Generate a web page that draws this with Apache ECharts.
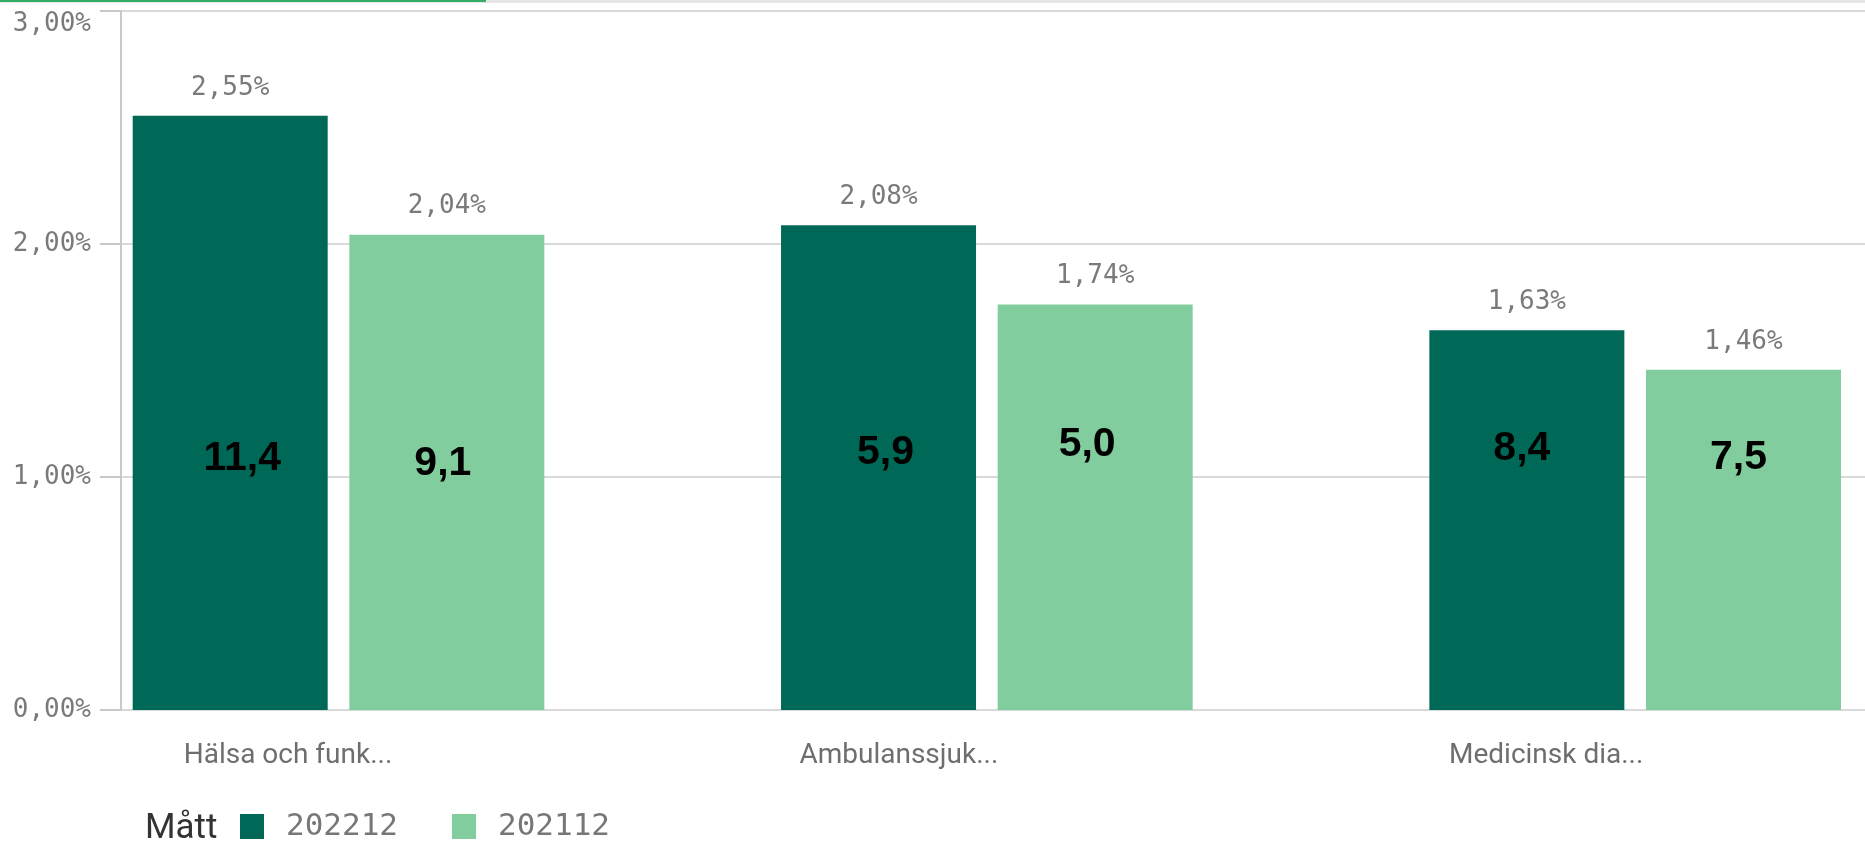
<!DOCTYPE html>
<html>
<head>
<meta charset="utf-8">
<script src="https://cdn.jsdelivr.net/npm/echarts@6/dist/echarts.min.js"></script>
<style>
  html, body { margin: 0; padding: 0; background: #fff; }
  #chart { width: 1865px; height: 842px; }
</style>
</head>
<body>
<div id="chart"></div>
<script>
// data
const categories = ['Hälsa och funk...', 'Ambulanssjuk...', 'Medicinsk dia...'];
const seriesNames = ['202212', '202112'];
const share202212 = [2.55, 2.08, 1.63];
const share202112 = [2.04, 1.74, 1.46];
const inner202212 = [11.4, 5.9, 8.4];
const inner202112 = [9.1, 5.0, 7.5];
const yTicks = [0, 1, 2, 3];

// small nudges for the pasted-in numbers (style only)
const innerOffset202212 = [[12, 4], [7, -2], [-5, -6]];
const innerOffset202112 = [[-4, 9], [-8, -10], [-5, 3]];
// spacer widths so category labels sit left of the group centre, as in Qlik
const labelShift = [101, 176, 178];

const DARK = '#006857';
const LIGHT = '#82cd9e';
const MONO = '"DejaVu Sans Mono", "Liberation Mono", monospace';
const SANS = 'Roboto, "Noto Sans", sans-serif';

const pct = v => v.toFixed(2).replace('.', ',') + '%';
const dec = v => v.toFixed(1).replace('.', ',');

const chart = echarts.init(document.getElementById('chart'));

const barCommon = {
  type: 'bar',
  xAxisIndex: 0,
  yAxisIndex: 0,
  barWidth: 195,
  barGap: '11.1%'
};

function topSeries(name, values, color) {
  return Object.assign({}, barCommon, {
    name: name,
    data: values,
    itemStyle: { color: color },
    label: {
      show: true,
      position: 'top',
      distance: 15,
      formatter: p => pct(p.value),
      fontFamily: MONO,
      fontSize: 26,
      color: '#7a7a7a'
    }
  });
}

function innerSeries(name, values, inner, offsets) {
  return Object.assign({}, barCommon, {
    name: name,
    xAxisIndex: 1,
    data: values.map((v, i) => ({ value: v, label: { offset: offsets[i] } })),
    itemStyle: { color: 'rgba(0,0,0,0)' },
    silent: true,
    label: {
      show: true,
      position: 'insideBottom',
      distance: 235,
      formatter: p => dec(inner[p.dataIndex]),
      fontFamily: '"Liberation Sans", Arial, sans-serif',
      fontWeight: 'bold',
      fontSize: 41,
      color: '#000'
    }
  });
}

const rich = {
  t: { fontFamily: SANS, fontSize: 28, color: '#6e6e6e' }
};
labelShift.forEach((w, i) => { rich['s' + i] = { width: w }; });

const option = {
  animation: false,
  backgroundColor: '#fff',
  title: {
    text: 'Mått',
    left: 145,
    top: 812,
    padding: 0,
    textStyle: { fontFamily: SANS, fontSize: 35, fontWeight: 'normal', color: '#333' }
  },
  legend: {
    data: seriesNames,
    left: 240,
    top: 811,
    padding: 0,
    icon: 'rect',
    itemWidth: 24,
    itemHeight: 25,
    itemGap: 54,
    textStyle: { fontFamily: MONO, fontSize: 31, color: '#777', padding: [0, 0, 0, 17] }
  },
  graphic: [
    { type: 'rect', shape: { x: 0, y: 0, width: 1865, height: 3 }, style: { fill: '#e6e6e6' }, silent: true },
    { type: 'rect', shape: { x: 0, y: 0, width: 486, height: 2 }, style: { fill: '#35ac66' }, silent: true }
  ],
  grid: [
    // bars: category bands wider than the visible area, like the source layout
    { left: 14.35, width: 1945, top: 11, bottom: 132, containLabel: false, outerBoundsMode: 'none' },
    // value axis with ticks and grid lines
    { left: 121, right: 0, top: 11, bottom: 132, containLabel: false, outerBoundsMode: 'none' }
  ],
  xAxis: [
    {
      gridIndex: 0,
      type: 'category',
      data: categories,
      axisLine: { show: false },
      axisTick: { show: false },
      axisLabel: {
        interval: 0,
        margin: 32,
        formatter: (value, index) => '{t|' + value + '}{s' + index + '|}',
        rich: rich
      }
    },
    { gridIndex: 0, type: 'category', data: categories, show: false },
    { gridIndex: 1, type: 'category', data: categories, show: false }
  ],
  yAxis: [
    { gridIndex: 0, type: 'value', min: yTicks[0], max: yTicks[yTicks.length - 1], show: false },
    {
      gridIndex: 1,
      type: 'value',
      min: yTicks[0],
      max: yTicks[yTicks.length - 1],
      interval: yTicks[1] - yTicks[0],
      axisLine: { show: true, lineStyle: { color: '#c9c9c9', width: 2 } },
      axisTick: { show: true, length: 21, lineStyle: { color: '#c9c9c9', width: 2 } },
      splitLine: { show: true, lineStyle: { color: '#d9d9d9', width: 2 } },
      axisLabel: {
        margin: 30,
        fontFamily: MONO,
        fontSize: 26,
        color: '#7a7a7a',
        verticalAlignMaxLabel: 'top',
        formatter: v => pct(v)
      }
    }
  ],
  series: [
    topSeries(seriesNames[0], share202212, DARK),
    topSeries(seriesNames[1], share202112, LIGHT),
    innerSeries('inner ' + seriesNames[0], share202212, inner202212, innerOffset202212),
    innerSeries('inner ' + seriesNames[1], share202112, inner202112, innerOffset202112)
  ]
};

chart.setOption(option);
window.addEventListener('resize', () => chart.resize());
</script>
</body>
</html>
